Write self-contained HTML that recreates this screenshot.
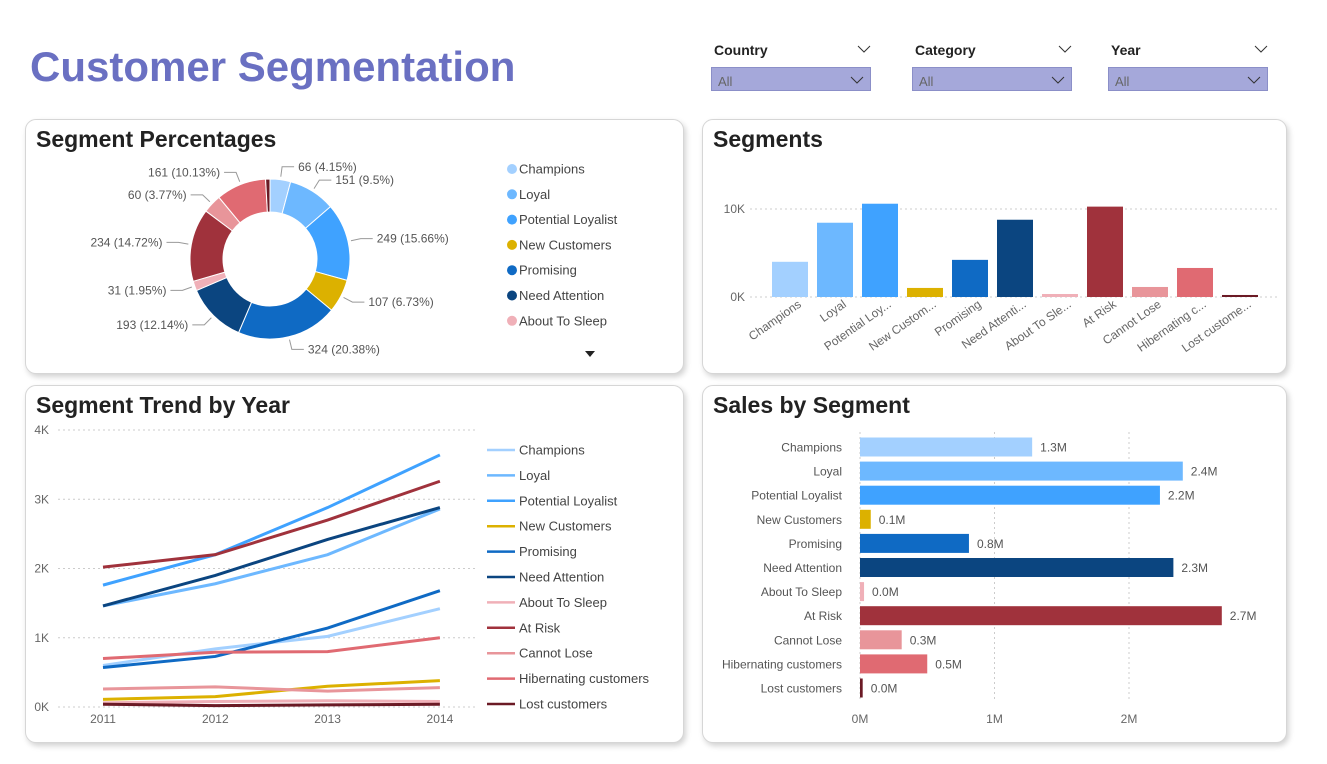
<!DOCTYPE html>
<html><head><meta charset="utf-8">
<style>
body{margin:0;width:1327px;height:764px;background:#fff;font-family:"Liberation Sans",sans-serif;position:relative;overflow:hidden}
.card{position:absolute;background:#fff;border:1px solid #d6d6d6;border-radius:11px;box-shadow:2px 3px 6px rgba(0,0,0,0.18)}
.ct{position:absolute;left:10px;top:6px;font-size:23px;font-weight:bold;color:#222}
.flt{position:absolute;top:42px;width:162px}
.flt .lb{font-size:14px;font-weight:bold;color:#222;padding-left:3px}
.flt .box{position:absolute;top:25px;left:0;width:160px;height:24px;background:#a5a8da;border:1px solid #8b8fc8;font-size:13px;color:#666;line-height:28px;padding-left:6px;box-sizing:border-box}
svg text{font-family:"Liberation Sans",sans-serif}
</style></head><body>
<div style="position:absolute;left:30px;top:43px;font-size:42px;font-weight:bold;color:#6a70c2">Customer Segmentation</div>

<div class="flt" style="left:711px"><div class="lb">Country</div><svg style="position:absolute;left:146px;top:2px" width="14" height="10"><path d="M1 2 L7 8 L13 2" stroke="#333" fill="none"/></svg><div class="box">All<svg style="position:absolute;right:6px;top:7px" width="14" height="10"><path d="M1 2 L7 8 L13 2" stroke="#333" fill="none"/></svg></div></div>
<div class="flt" style="left:912px"><div class="lb">Category</div><svg style="position:absolute;left:146px;top:2px" width="14" height="10"><path d="M1 2 L7 8 L13 2" stroke="#333" fill="none"/></svg><div class="box">All<svg style="position:absolute;right:6px;top:7px" width="14" height="10"><path d="M1 2 L7 8 L13 2" stroke="#333" fill="none"/></svg></div></div>
<div class="flt" style="left:1108px"><div class="lb">Year</div><svg style="position:absolute;left:146px;top:2px" width="14" height="10"><path d="M1 2 L7 8 L13 2" stroke="#333" fill="none"/></svg><div class="box">All<svg style="position:absolute;right:6px;top:7px" width="14" height="10"><path d="M1 2 L7 8 L13 2" stroke="#333" fill="none"/></svg></div></div>

<div class="card" style="left:25px;top:119px;width:657px;height:253px"><div class="ct">Segment Percentages</div></div>
<div class="card" style="left:702px;top:119px;width:583px;height:253px"><div class="ct">Segments</div></div>
<div class="card" style="left:25px;top:385px;width:657px;height:356px"><div class="ct">Segment Trend by Year</div></div>
<div class="card" style="left:702px;top:385px;width:583px;height:356px"><div class="ct">Sales by Segment</div></div>

<svg id="main" width="1327" height="764" style="position:absolute;left:0;top:0"></svg>

<script>
const segNames=["Champions","Loyal","Potential Loyalist","New Customers","Promising","Need Attention","About To Sleep","At Risk","Cannot Lose","Hibernating customers","Lost customers"];
const segShort=["Champions","Loyal","Potential Loy...","New Custom...","Promising","Need Attenti...","About To Sle...","At Risk","Cannot Lose","Hibernating c...","Lost custome..."];
const colors=["#a3d0ff","#6db8ff","#3fa2ff","#dcb100","#0f6ac4","#0b4580","#f0b0b8","#a0323c","#e8959a","#e06a72","#6b1a25"];
const donutCounts=[66,151,249,107,324,193,31,234,60,161,14];
const segCountsK=[4.0,8.44,10.6,1.03,4.22,8.78,0.34,10.27,1.14,3.3,0.23];
const segTicks=[0,10];
const salesM=[1.28,2.4,2.23,0.08,0.81,2.33,0.03,2.69,0.31,0.5,0.02];
const salesTicks=[0,1,2];
const years=[2011,2012,2013,2014];
const trendTicks=[0,1,2,3,4];
const trend=[
 [0.6,0.84,1.02,1.42],
 [1.46,1.78,2.2,2.86],
 [1.76,2.2,2.88,3.64],
 [0.11,0.15,0.3,0.38],
 [0.57,0.73,1.14,1.68],
 [1.46,1.9,2.42,2.88],
 [0.06,0.08,0.09,0.08],
 [2.02,2.2,2.7,3.26],
 [0.26,0.29,0.23,0.28],
 [0.7,0.79,0.8,1.0],
 [0.04,0.02,0.03,0.04]];

const NS="http://www.w3.org/2000/svg";
const svg=document.getElementById('main');
function mk(tag,attrs,parent){const e=document.createElementNS(NS,tag);for(const k in attrs)e.setAttribute(k,attrs[k]);(parent||svg).appendChild(e);return e;}
function txt(s,attrs){const t=mk('text',attrs);t.textContent=s;return t;}

// ---- Donut ----
const cx=270,cy=259,R=80,r=47;
const total=donutCounts.reduce((a,b)=>a+b,0);
let acc=0;
donutCounts.forEach((v,i)=>{
 const a0=acc/total*2*Math.PI, a1=(acc+v)/total*2*Math.PI; acc+=v;
 const p=(a,rad)=>[cx+rad*Math.sin(a),cy-rad*Math.cos(a)];
 const large=(a1-a0)>Math.PI?1:0;
 const [x0,y0]=p(a0,R),[x1,y1]=p(a1,R),[x2,y2]=p(a1,r),[x3,y3]=p(a0,r);
 const s=mk('path',{d:`M${x0} ${y0} A${R} ${R} 0 ${large} 1 ${x1} ${y1} L${x2} ${y2} A${r} ${r} 0 ${large} 0 ${x3} ${y3} Z`,fill:colors[i],stroke:'#fff','stroke-width':1});
 
 
 if(i<10){
  const am=(a0+a1)/2;const [lx0,ly0]=p(am,R+3);const [lx1,ly1]=p(am,R+13);
  const right=Math.sin(am)>=0;const lx2=lx1+(right?12:-12);
  mk('polyline',{points:`${lx0},${ly0} ${lx1},${ly1} ${lx2},${ly1}`,fill:'none',stroke:'#999','stroke-width':1});
  const t=txt(v+' ('+(v/total*100).toFixed(2).replace(/\.?0+$/,'')+'%)',{x:lx2+(right?4:-4),y:ly1+4,'font-size':12,fill:'#555','text-anchor':right?'start':'end'});
  
  
 }
});
for(let i=0;i<7;i++){
 const y=169+i*25.3;
 const c=mk('circle',{cx:512,cy:y,r:5,fill:colors[i]});
 
 
 const t=txt(segNames[i],{x:519,y:y+4.5,'font-size':13,fill:'#444'});
 
 
}
const arr=mk('path',{d:'M585 351 L595 351 L590 357 Z',fill:'#222'});



// ---- Segments column chart ----
const sy=v=>297-(v/10)*88;
const sx=i=>772+i*45;
segTicks.forEach(t=>{
 mk('line',{x1:750,x2:1280,y1:sy(t),y2:sy(t),stroke:'#ccc','stroke-dasharray':'2,3'});
 const l=txt(t+'K',{x:745,y:sy(t)+4,'font-size':12,fill:'#666','text-anchor':'end'});
 
 
});
segCountsK.forEach((v,i)=>{
 const b=mk('rect',{x:sx(i),y:sy(v),width:36,height:297-sy(v),fill:colors[i]});
 
 
 const ax=sx(i)+30, ay=306;
 const l=txt(segShort[i],{x:ax,y:ay,'font-size':12,fill:'#666','text-anchor':'end',transform:`rotate(-35 ${ax} ${ay})`});
 
 
});

// ---- Trend line chart ----
const ty=v=>707-v*69.25;
const tx=i=>103+i*112.3;
trendTicks.forEach(t=>{
 mk('line',{x1:58,x2:475,y1:ty(t),y2:ty(t),stroke:'#ccc','stroke-dasharray':'2,3'});
 const l=txt(t+'K',{x:49,y:ty(t)+4,'font-size':12,fill:'#666','text-anchor':'end'});
 
 
});
years.forEach((y,i)=>{
 const l=txt(String(y),{x:tx(i),y:723,'font-size':12,fill:'#666','text-anchor':'middle'});
 
 
});
trend.forEach((s,k)=>{
 const pl=mk('polyline',{points:s.map((v,i)=>tx(i)+','+ty(v)).join(' '),fill:'none',stroke:colors[k],'stroke-width':3});
 
 
});
segNames.forEach((n,i)=>{
 const y=450+i*25.4;
 mk('line',{x1:487,x2:515,y1:y,y2:y,stroke:colors[i],'stroke-width':2.5});
 const t=txt(n,{x:519,y:y+4.5,'font-size':13,fill:'#444'});
 
 
});

// ---- Sales horizontal bar ----
const hx=v=>860+v*134.5;
const hy=i=>447+i*24.1;
salesTicks.forEach(t=>{
 mk('line',{x1:hx(t),x2:hx(t),y1:432,y2:702,stroke:'#ccc','stroke-dasharray':'2,3'});
 const l=txt(t+'M',{x:hx(t),y:723,'font-size':12,fill:'#666','text-anchor':'middle'});
 
 
});
salesM.forEach((v,i)=>{
 const b=mk('rect',{x:860,y:hy(i)-9.5,width:Math.max(hx(v)-860,1.5),height:19,fill:colors[i]});
 
 
 const l=txt(segNames[i],{x:842,y:hy(i)+4.5,'font-size':12,fill:'#555','text-anchor':'end'});
 
 
 const d=txt(v.toFixed(1)+'M',{x:hx(v)+8,y:hy(i)+4.5,'font-size':12,fill:'#555'});
 
 
});
</script>
</body></html>
